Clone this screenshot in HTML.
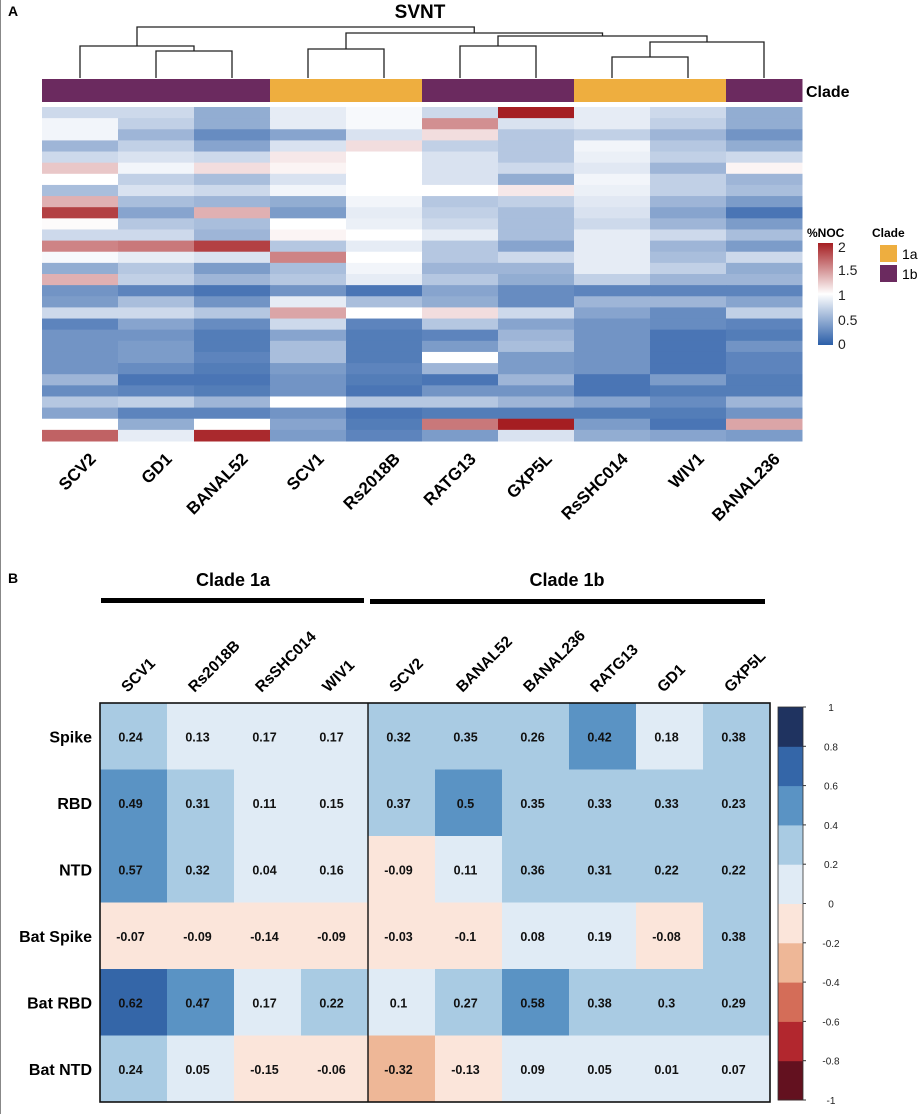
<!DOCTYPE html>
<html><head><meta charset="utf-8"><style>
html,body{margin:0;padding:0;background:#fff;}
svg{display:block;font-family:"Liberation Sans",Arial,sans-serif;}
</style></head><body>
<svg id="fig" width="919" height="1114" viewBox="0 0 919 1114">
<line x1="0.5" y1="0" x2="0.5" y2="1114" stroke="#888"/>
<text x="8" y="16" font-size="14" font-weight="bold">A</text>
<text x="420" y="18" font-size="19" font-weight="bold" text-anchor="middle">SVNT</text>
<g id="dendro" stroke="#222" stroke-width="1.3" fill="none"></g>
<g id="cladeBar"></g>
<text x="806" y="97" font-size="16" font-weight="bold">Clade</text>
<g id="hmA"></g>
<g id="labA"></g>
<defs><linearGradient id="nocg" x1="0" y1="1" x2="0" y2="0">
<stop offset="0" stop-color="#2b5ea8"/><stop offset="0.5" stop-color="#ffffff"/><stop offset="1" stop-color="#a51e22"/></linearGradient></defs>
<g>
<text x="807" y="237" font-size="12" font-weight="bold">%NOC</text>
<rect x="818" y="243" width="15" height="102" fill="url(#nocg)"/>
<g font-size="14" fill="#222"><text x="838" y="252">2</text><text x="838" y="275">1.5</text><text x="838" y="300">1</text><text x="838" y="325">0.5</text><text x="838" y="349">0</text></g>
</g>
<g>
<text x="872" y="237" font-size="12" font-weight="bold">Clade</text>
<rect x="880" y="245" width="17" height="17" fill="#eeae3f"/>
<rect x="880" y="265" width="17" height="17" fill="#6b2a5f"/>
<text x="902" y="259" font-size="14">1a</text><text x="902" y="279" font-size="14">1b</text>
</g>
<text x="8" y="583" font-size="14" font-weight="bold">B</text>
<text x="233" y="586" font-size="18" font-weight="bold" text-anchor="middle">Clade 1a</text>
<rect x="101" y="598" width="263" height="5" fill="#000"/>
<text x="567" y="586" font-size="18" font-weight="bold" text-anchor="middle">Clade 1b</text>
<rect x="370" y="599" width="395" height="5" fill="#000"/>
<g id="hmB"></g>
<g id="cbB"></g>
</svg>
<script>
// ---- Panel A data ----
const colsA = ["SCV2","GD1","BANAL52","SCV1","Rs2018B","RATG13","GXP5L","RsSHC014","WIV1","BANAL236"];
const cladeA = ["1b","1b","1b","1a","1a","1b","1b","1a","1a","1b"];
const valsA = [
[.8,.8,.55,.9,.97,.8,2.0,.9,.8,.55],
[.95,.75,.55,.9,.97,1.5,.85,.9,.75,.55],
[.95,.6,.35,.5,.85,1.15,.7,.75,.6,.4],
[.6,.75,.5,.85,1.15,.75,.7,.95,.7,.55],
[.8,.85,.8,1.1,1.0,.85,.7,.92,.75,.8],
[1.25,.95,1.15,1.05,1.0,.85,.8,.88,.6,1.05],
[1.0,.75,.65,.85,1.0,.85,.55,.95,.75,.6],
[.65,.85,.8,.95,1.0,1.0,1.1,.92,.75,.65],
[1.35,.65,.6,.55,.95,.7,.75,.88,.6,.45],
[1.85,.5,1.35,.45,.9,.75,.65,.85,.5,.2],
[1.02,.7,.65,1.0,.92,.8,.65,.8,.6,.45],
[.8,.8,.6,1.05,1.0,.9,.65,.9,.8,.65],
[1.55,1.6,1.85,.7,.9,.7,.5,.9,.6,.45],
[.97,.9,.85,1.55,1.0,.7,.8,.9,.65,.8],
[.55,.7,.45,.65,.95,.6,.6,.9,.75,.55],
[1.35,.75,.6,.7,.9,.7,.55,.75,.6,.6],
[.4,.3,.2,.4,.2,.5,.35,.3,.3,.3],
[.45,.65,.4,.9,.65,.55,.35,.6,.6,.5],
[.8,.8,.7,1.4,1.0,1.15,.8,.5,.35,.75],
[.3,.5,.35,.8,.3,.7,.5,.4,.35,.3],
[.4,.4,.25,.5,.25,.3,.6,.4,.2,.25],
[.4,.45,.25,.65,.25,.45,.65,.4,.2,.4],
[.4,.45,.3,.65,.25,1.0,.45,.4,.2,.3],
[.4,.35,.25,.45,.3,.6,.45,.4,.2,.3],
[.6,.2,.2,.4,.25,.2,.6,.2,.45,.25],
[.35,.3,.25,.4,.2,.4,.4,.2,.25,.25],
[.7,.75,.6,1.0,.7,.7,.6,.5,.35,.6],
[.5,.3,.3,.4,.2,.25,.25,.25,.25,.4],
[1.0,.55,1.0,.5,.25,1.6,2.0,.45,.2,1.4],
[1.7,.9,1.95,.45,.3,.45,.85,.55,.5,.45]
];
// dendrogram merges (node indices: leaves 0-9, merges 10+)
const mergeL = [1,3,0,5,7,14,13,11,12];
const mergeR = [2,4,10,6,8,9,15,16,17];
const mergeH = [51,49,46,46,57,42,36,33,27];
// ---- Panel B data ----
const colsB = ["SCV1","Rs2018B","RsSHC014","WIV1","SCV2","BANAL52","BANAL236","RATG13","GD1","GXP5L"];
const rowsB = ["Spike","RBD","NTD","Bat Spike","Bat RBD","Bat NTD"];
const valsB = [
[0.24,0.13,0.17,0.17,0.32,0.35,0.26,0.42,0.18,0.38],
[0.49,0.31,0.11,0.15,0.37,0.5,0.35,0.33,0.33,0.23],
[0.57,0.32,0.04,0.16,-0.09,0.11,0.36,0.31,0.22,0.22],
[-0.07,-0.09,-0.14,-0.09,-0.03,-0.1,0.08,0.19,-0.08,0.38],
[0.62,0.47,0.17,0.22,0.1,0.27,0.58,0.38,0.3,0.29],
[0.24,0.05,-0.15,-0.06,-0.32,-0.13,0.09,0.05,0.01,0.07]
];
const cbTicks = [1,0.8,0.6,0.4,0.2,0,-0.2,-0.4,-0.6,-0.8,-1];
const binColors = ["#63111f","#b2272e","#d46d58","#eeb797","#fbe5da","#e0ebf5","#a9cbe3","#5a93c4","#3466a8","#1f3360"];

const NS="http://www.w3.org/2000/svg";
function mk(tag,attrs,parent){const e=document.createElementNS(NS,tag);for(const k in attrs)e.setAttribute(k,attrs[k]);parent.appendChild(e);return e;}
function lerp(a,b,t){return a.map((v,i)=>Math.round(v+(b[i]-v)*t));}
function nocColor(v){const blue=[43,94,168],w=[255,255,255],red=[165,30,34];
 const c=v<1?lerp(blue,w,Math.pow(Math.max(0,v),1.2)):lerp(w,red,Math.min(1,v-1));return `rgb(${c.join(',')})`;}
// Panel A scales
const ax0=42, aw=76, ay0=107, ah=334/30;
const xA=i=>ax0+i*aw, xAc=i=>ax0+(i+0.5)*aw, yA=r=>ay0+r*ah;
const hmA=document.getElementById('hmA');
valsA.forEach((row,r)=>row.forEach((v,c)=>{
 const e=mk('rect',{x:xA(c),y:yA(r),width:aw+0.5,height:ah+0.5,fill:nocColor(v)},hmA);
 
 
}));
const cb=document.getElementById('cladeBar');
cladeA.forEach((k,i)=>{
 const e=mk('rect',{x:xA(i),y:79,width:aw+0.5,height:23,fill:k==="1a"?"#eeae3f":"#6b2a5f"},cb);
 
 
});
const labA=document.getElementById('labA');
colsA.forEach((n,i)=>{
 const x=xAc(i)+17,y=460;
 const t=mk('text',{x:x,y:y,'text-anchor':'end','font-size':17,'font-weight':'bold',transform:`rotate(-45 ${x} ${y})`},labA);
 t.textContent=n;
 
 
});
// dendrogram
const dg=document.getElementById('dendro');
const nodeX=colsA.map((_,i)=>xAc(i)), nodeY=colsA.map(()=>78);
mergeL.forEach((l,k)=>{
 const r=mergeR[k],h=mergeH[k];
 const p=mk('path',{d:`M${nodeX[l]} ${nodeY[l]}V${h}H${nodeX[r]}V${nodeY[r]}`},dg);
 
 
 nodeX.push((nodeX[l]+nodeX[r])/2);nodeY.push(h);
});
// Panel B
const bx0=100,bw=67,by0=703,bh=66.5;
const xB=i=>bx0+i*bw, yB=r=>by0+r*bh;
function binColor(v){let i=Math.floor((v+1)/0.2);i=Math.max(0,Math.min(9,i));return binColors[i];}
const hmB=document.getElementById('hmB');
valsB.forEach((row,r)=>row.forEach((v,c)=>{
 const e=mk('rect',{x:xB(c),y:yB(r),width:bw+0.5,height:bh+0.5,fill:binColor(v)},hmB);
 
 
 const t=mk('text',{x:xB(c)+bw/2-3,y:yB(r)+bh/2+5,'text-anchor':'middle','font-size':12.5,'font-weight':'bold',fill:'#111'},hmB);
 t.textContent=String(v);
 
 
}));
mk('rect',{x:bx0,y:by0,width:bw*10,height:bh*6,fill:'none',stroke:'#111','stroke-width':1.6},hmB);
mk('line',{x1:xB(4),y1:by0,x2:xB(4),y2:by0+bh*6,stroke:'#111','stroke-width':1.4},hmB);
rowsB.forEach((n,r)=>{
 const t=mk('text',{x:92,y:yB(r)+bh/2+6,'text-anchor':'end','font-size':16,'font-weight':'bold'},hmB);
 t.textContent=n;
 
 
});
colsB.forEach((n,i)=>{
 const x=xB(i)+bw/2-6,y=693;
 const t=mk('text',{x:x,y:y,'text-anchor':'start','font-size':15.5,'font-weight':'bold',transform:`rotate(-45 ${x} ${y})`},hmB);
 t.textContent=n;
 
 
});
// colorbar
const cbg=document.getElementById('cbB');
const cy0=707,cy1=1100,cx=778,cw=25;
const yC=v=>cy0+(1-v)/2*(cy1-cy0);
binColors.forEach((col,i)=>{
 const lo=-1+i*0.2;
 const e=mk('rect',{x:cx,y:yC(lo+0.2),width:cw,height:yC(lo)-yC(lo+0.2)+0.5,fill:col},cbg);
 
 
});
mk('rect',{x:cx,y:cy0,width:cw,height:cy1-cy0,fill:'none',stroke:'#333','stroke-width':0.8},cbg);
cbTicks.forEach(v=>{
 mk('line',{x1:cx+cw,y1:yC(v),x2:cx+cw+3,y2:yC(v),stroke:'#333'},cbg);
 const t=mk('text',{x:831,y:yC(v)+4,'text-anchor':'middle','font-size':10,fill:'#222'},cbg);
 t.textContent=String(v);
 
 
});
</script>
</body></html>
